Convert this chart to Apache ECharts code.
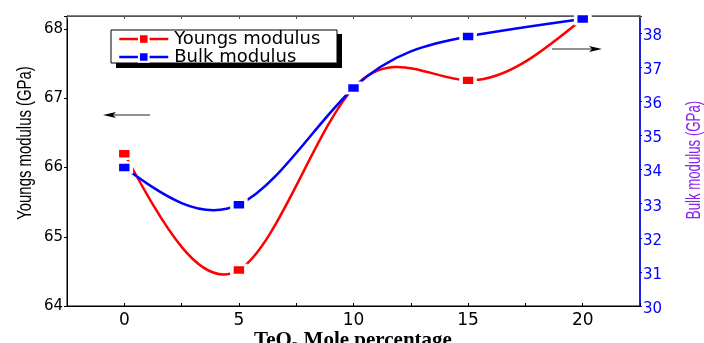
<!DOCTYPE html>
<html>
<head>
<meta charset="utf-8">
<script src="https://cdn.jsdelivr.net/npm/echarts@6/dist/echarts.min.js"></script>
<style>
html,body{margin:0;padding:0;background:#fff;}
#chart{width:704px;height:343px;}
</style>
</head>
<body>
<div id="chart"></div>
<script>
// ---- data ----
const teo2 = [0, 5, 10, 15, 20];                           // TeO2 mole percentage
const youngsModulus = [66.2, 64.52, 67.15, 67.26, 68.15];  // GPa (left axis)
const bulkModulus = [34.06, 32.97, 36.39, 37.90, 38.41];   // GPa (right axis)
const xTickLabels = ['0', '5', '10', '15', '20'];
const leftTickLabels = ['64', '65', '66', '67', '68'];
const rightTickLabels = ['30', '31', '32', '33', '34', '35', '36', '37', '38'];
const seriesNames = ['Youngs modulus', 'Bulk modulus'];

const chart = echarts.init(document.getElementById('chart'), null, {renderer: 'canvas'});

function labelFilter(list) {
  return function (v) {
    const s = String(Math.round(v * 1000) / 1000);
    return list.indexOf(s) >= 0 ? s : '';
  };
}

// second derivatives of a natural cubic spline through the points (used only to
// shape the connecting curve, like the original plot's spline connection)
function splineMoments(xs, ys) {
  const n = xs.length;
  const a = [], b = [], c = [], d = [];
  for (let i = 1; i < n - 1; i++) {
    const h0 = xs[i] - xs[i - 1], h1 = xs[i + 1] - xs[i];
    a.push(h0 / 6); b.push((h0 + h1) / 3); c.push(h1 / 6);
    d.push((ys[i + 1] - ys[i]) / h1 - (ys[i] - ys[i - 1]) / h0);
  }
  const m = d.length;
  for (let i = 1; i < m; i++) {
    const w = a[i] / b[i - 1];
    b[i] -= w * c[i - 1];
    d[i] -= w * d[i - 1];
  }
  const M = new Array(n).fill(0);
  for (let i = m - 1; i >= 0; i--) {
    M[i + 1] = (d[i] - (i < m - 1 ? c[i] * M[i + 2] : 0)) / b[i];
  }
  return M;
}

function splineRenderer(xs, ys, color) {
  const M = splineMoments(xs, ys);
  return function (params, api) {
    const i = params.dataIndex;
    if (i >= xs.length - 1) return null;
    const h = xs[i + 1] - xs[i];
    const s = (ys[i + 1] - ys[i]) / h;
    const d0 = s - h * (2 * M[i] + M[i + 1]) / 6;
    const d1 = s + h * (M[i] + 2 * M[i + 1]) / 6;
    const p0 = api.coord([xs[i], ys[i]]);
    const c1 = api.coord([xs[i] + h / 3, ys[i] + d0 * h / 3]);
    const c2 = api.coord([xs[i + 1] - h / 3, ys[i + 1] - d1 * h / 3]);
    const p3 = api.coord([xs[i + 1], ys[i + 1]]);
    return {
      type: 'bezierCurve',
      shape: {x1: p0[0], y1: p0[1], cpx1: c1[0], cpy1: c1[1], cpx2: c2[0], cpy2: c2[1], x2: p3[0], y2: p3[1]},
      style: {stroke: color, lineWidth: 2.5, fill: null}
    };
  };
}

const numFont = "'DejaVu Sans', sans-serif";
const sansFont = "'Liberation Sans', Arial, sans-serif";
const RED = '#ff0000', BLUE = '#0000ff';

const option = {
  animation: false,
  backgroundColor: '#fff',
  grid: {
    left: 67, right: 64, top: 16, bottom: 37,
    show: true, borderColor: '#000', borderWidth: 1,
    containLabel: false, outerBoundsMode: 'none'
  },
  legend: {
    orient: 'vertical',
    left: 118, top: 30,
    padding: 0,
    itemGap: 0,
    itemWidth: 49,
    itemHeight: 12,
    textStyle: {fontFamily: numFont, fontSize: 18, color: '#000', lineHeight: 16, padding: [0, 0, 0, 1]},
    data: [
      {name: seriesNames[0], lineStyle: {color: RED, width: 2.5, opacity: 1}},
      {name: seriesNames[1], lineStyle: {color: BLUE, width: 2.5, opacity: 1}}
    ]
  },
  xAxis: [{
    type: 'value', min: -2.5, max: 22.5, interval: 2.5,
    axisLine: {show: true, onZero: false, lineStyle: {color: '#000', width: 1}},
    axisTick: {show: true, inside: true, length: 3, lineStyle: {color: '#000'}},
    axisLabel: {formatter: labelFilter(xTickLabels), color: '#000', fontFamily: numFont, fontSize: 17, margin: 6},
    splitLine: {show: false}
  }, {
    type: 'value', position: 'top', min: -2.5, max: 22.5, interval: 2.5,
    axisLine: {show: true, onZero: false, lineStyle: {color: '#555', width: 1}},
    axisTick: {show: true, inside: true, length: 3, lineStyle: {color: '#555'}},
    axisLabel: {show: false},
    splitLine: {show: false}
  }],
  yAxis: [{
    type: 'value', min: 64, max: 68.19, interval: 1, position: 'left',
    axisLine: {show: true, onZero: false, lineStyle: {color: '#000', width: 1}},
    axisTick: {show: true, inside: false, length: 3, lineStyle: {color: '#000'}},
    axisLabel: {formatter: labelFilter(leftTickLabels), color: '#000', fontFamily: numFont, fontSize: 15, margin: 4},
    splitLine: {show: false}
  }, {
    type: 'value', min: 30, max: 38.5, interval: 1, position: 'right',
    axisLine: {show: true, onZero: false, lineStyle: {color: BLUE, width: 1.5}},
    axisTick: {show: true, inside: false, length: 2, lineStyle: {color: BLUE}},
    axisLabel: {formatter: labelFilter(rightTickLabels), color: BLUE, fontFamily: numFont, fontSize: 15, margin: 3,
                verticalAlign: 'top', lineHeight: 6},
    splitLine: {show: false}
  }],
  series: [{
    name: seriesNames[0],
    type: 'line',
    xAxisIndex: 0, yAxisIndex: 0,
    data: teo2.map((x, i) => [x, youngsModulus[i]]),
    symbol: 'rect',
    symbolSize: [14, 10],
    color: RED,
    lineStyle: {color: RED, width: 2.5, opacity: 0},
    itemStyle: {color: RED, borderColor: '#fff', borderWidth: 3},
    z: 4
  }, {
    name: seriesNames[1],
    type: 'line',
    xAxisIndex: 0, yAxisIndex: 1,
    data: teo2.map((x, i) => [x, bulkModulus[i]]),
    symbol: 'rect',
    symbolSize: [14, 10],
    color: BLUE,
    lineStyle: {color: BLUE, width: 2.5, opacity: 0},
    itemStyle: {color: BLUE, borderColor: '#fff', borderWidth: 3},
    z: 5
  }, {
    name: 'youngsCurve',
    type: 'custom',
    coordinateSystem: 'cartesian2d',
    xAxisIndex: 0, yAxisIndex: 0,
    data: teo2.map((x, i) => [x, youngsModulus[i]]),
    encode: {x: 0, y: 1},
    renderItem: splineRenderer(teo2, youngsModulus, RED),
    clip: false,
    silent: true,
    z: 2
  }, {
    name: 'bulkCurve',
    type: 'custom',
    coordinateSystem: 'cartesian2d',
    xAxisIndex: 0, yAxisIndex: 1,
    data: teo2.map((x, i) => [x, bulkModulus[i]]),
    encode: {x: 0, y: 1},
    renderItem: splineRenderer(teo2, bulkModulus, BLUE),
    clip: false,
    silent: true,
    z: 3
  }],
  graphic: [
    // legend shadow and box
    {type: 'rect', shape: {x: 116, y: 34, width: 226, height: 34}, style: {fill: '#000'}, z: 1},
    {type: 'rect', shape: {x: 111, y: 30, width: 226, height: 33}, style: {fill: '#fff', stroke: '#000', lineWidth: 1}, z: 2},
    // left arrow
    {type: 'line', shape: {x1: 150, y1: 115, x2: 112, y2: 115}, style: {stroke: '#222', lineWidth: 1}, z: 5},
    {type: 'polygon', shape: {points: [[103, 115], [116, 112], [113, 115], [116, 118]]}, style: {fill: '#000'}, z: 5},
    // right arrow
    {type: 'line', shape: {x1: 552, y1: 49, x2: 593, y2: 49}, style: {stroke: '#222', lineWidth: 1}, z: 5},
    {type: 'polygon', shape: {points: [[602, 49], [589, 46], [592, 49], [589, 52]]}, style: {fill: '#000'}, z: 5},
    // axis titles (condensed like the original)
    {type: 'text', x: 25, y: 143, rotation: Math.PI / 2, scaleX: 0.71, scaleY: 1,
     style: {text: 'Youngs modulus (GPa)', fontFamily: sansFont, fontSize: 21, fill: '#000', align: 'center', verticalAlign: 'middle'}, z: 5},
    {type: 'text', x: 694, y: 160, rotation: Math.PI / 2, scaleX: 0.63, scaleY: 1,
     style: {text: 'Bulk modulus (GPa)', fontFamily: sansFont, fontSize: 21, fill: '#8f22ee', align: 'center', verticalAlign: 'middle'}, z: 5},
    {type: 'text', x: 353, y: 329,
     style: {
       text: '{a|TeO}{s|2}{a| Mole percentage}',
       align: 'center', verticalAlign: 'top',
       rich: {
         a: {fontFamily: "'Liberation Serif', 'DejaVu Serif', serif", fontWeight: 'bold', fontSize: 21, fill: '#000', lineHeight: 24, verticalAlign: 'middle'},
         s: {fontFamily: "'Liberation Serif', 'DejaVu Serif', serif", fontWeight: 'bold', fontSize: 13, fill: '#000', lineHeight: 24, verticalAlign: 'bottom'}
       }
     }, z: 5}
  ]
};
chart.setOption(option);
</script>
</body>
</html>
